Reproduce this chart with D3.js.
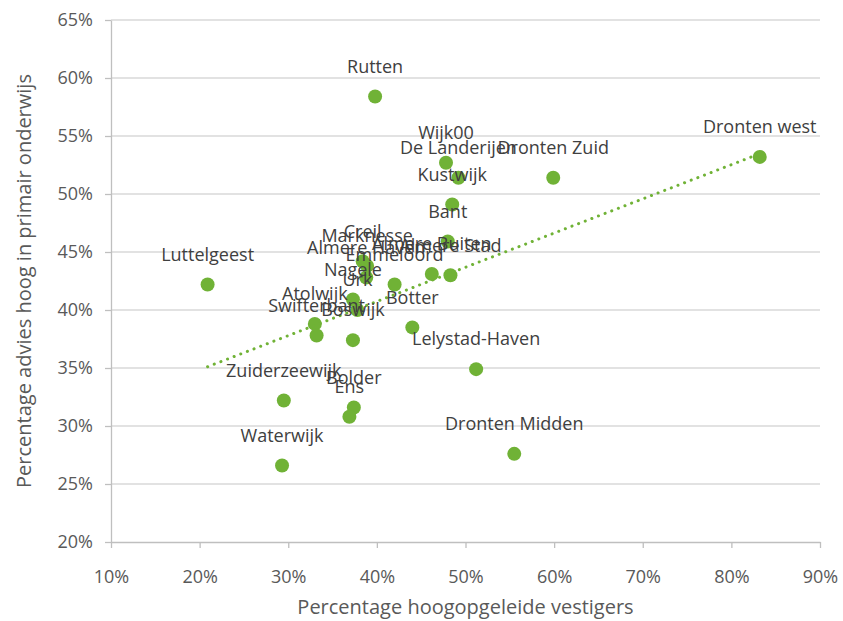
<!DOCTYPE html>
<html>
<head>
<meta charset="utf-8">
<script src="https://cdn.jsdelivr.net/npm/d3@7"></script>
<style>
	body { margin: 0; background: #fff; }
	text { font-family: 'Open Sans', sans-serif; }
</style>
</head>
<body>
<div id="chart"></div>
<script>
// wijken / kernen
const names = [
	'Rutten', 'Dronten west', 'Wijk00', 'De Landerijen', 'Dronten Zuid', 'Kustwijk',
	'Bant', 'Creil', 'Marknesse', 'Almere Haven', 'Almere Buiten', 'Almere Stad',
	'Emmeloord', 'Luttelgeest', 'Nagele', 'Urk', 'Atolwijk', 'Swifterbant',
	'Boswijk', 'Botter', 'Lelystad-Haven', 'Zuiderzeewijk', 'Bolder', 'Ens',
	'Waterwijk', 'Dronten Midden'
];
// percentage hoogopgeleide vestigers
const vestigers = [
	39.8, 83.2, 47.8, 49.2, 59.9, 48.5,
	48.0, 38.4, 38.9, 38.8, 46.2, 48.3,
	42.0, 20.9, 37.3, 37.8, 33.0, 33.2,
	37.3, 44.0, 51.2, 29.5, 37.4, 36.9,
	29.3, 55.5
];
// percentage advies hoog in primair onderwijs
const adviesHoog = [
	58.4, 53.2, 52.7, 51.4, 51.4, 49.1,
	45.9, 44.2, 43.8, 42.8, 43.1, 43.0,
	42.2, 42.2, 40.9, 40.0, 38.8, 37.8,
	37.4, 38.5, 34.9, 32.2, 31.6, 30.8,
	26.6, 27.6
];
const xTicks = [10, 20, 30, 40, 50, 60, 70, 80, 90];
const yTicks = [20, 25, 30, 35, 40, 45, 50, 55, 60, 65];

const W = 843, H = 621;
const margin = { left: 111, right: 23, top: 20, bottom: 79 };
const green = '#70b236';

const data = names.map((n, i) => ({ name: n, x: vestigers[i], y: adviesHoog[i] }));

const svg = d3.select('#chart').append('svg')
	.attr('width', W)
	.attr('height', H);

const x = d3.scaleLinear().domain([10, 90]).range([margin.left, W - margin.right]);
const y = d3.scaleLinear().domain([20, 65]).range([H - margin.bottom, margin.top]);

// horizontal gridlines
svg.append('g')
	.selectAll('line')
	.data(yTicks.slice(1))
	.enter()
	.append('line')
	.attr('x1', x(10))
	.attr('x2', x(90))
	.attr('y1', (d) => y(d))
	.attr('y2', (d) => y(d))
	.attr('stroke', '#d9d9d9')
	.attr('stroke-width', 1.3);

// axes
const xAxis = svg.append('g')
	.attr('transform', `translate(0,${y(20)})`)
	.call(d3.axisBottom(x).tickValues(xTicks).tickSize(6).tickSizeOuter(0).tickFormat((d) => d + '%'));
const yAxis = svg.append('g')
	.attr('transform', `translate(${x(10)},0)`)
	.call(d3.axisLeft(y).tickValues(yTicks).tickSize(6).tickSizeOuter(0).tickFormat((d) => d + '%'));

[xAxis, yAxis].forEach((a) => {
	a.select('.domain').attr('stroke', '#bfbfbf').attr('stroke-width', 1.3);
	a.selectAll('.tick line').attr('stroke', '#bfbfbf').attr('stroke-width', 1.3);
	a.selectAll('.tick text')
		.attr('fill', '#595959')
		.style('font-size', '18px')
		.style('font-family', "'Open Sans', sans-serif");
});
xAxis.selectAll('.tick text').attr('dy', '0.35em').attr('y', 35);
yAxis.selectAll('.tick text').attr('x', -18);

// linear trendline (least squares)
const mx = d3.mean(data, (d) => d.x);
const my = d3.mean(data, (d) => d.y);
const slope = d3.sum(data, (d) => (d.x - mx) * (d.y - my)) / d3.sum(data, (d) => (d.x - mx) ** 2);
const icpt = my - slope * mx;
const [xmin, xmax] = d3.extent(data, (d) => d.x);

// points
svg.append('g')
	.selectAll('circle')
	.data(data)
	.enter()
	.append('circle')
	.attr('cx', (d) => x(d.x))
	.attr('cy', (d) => y(d.y))
	.attr('r', 7)
	.attr('fill', green);

svg.append('line')
	.attr('x1', x(xmin))
	.attr('y1', y(icpt + slope * xmin))
	.attr('x2', x(xmax))
	.attr('y2', y(icpt + slope * xmax))
	.attr('stroke', green)
	.attr('stroke-width', 3)
	.attr('stroke-linecap', 'round')
	.attr('stroke-dasharray', '0.1 7');

// data labels above the points
svg.append('g')
	.selectAll('text')
	.data(data)
	.enter()
	.append('text')
	.attr('x', (d) => x(d.x))
	.attr('y', (d) => y(d.y) - 30)
	.attr('dy', '0.35em')
	.attr('text-anchor', 'middle')
	.attr('fill', '#404040')
	.style('font-size', '18px')
	.text((d) => d.name);

// axis titles
svg.append('text')
	.attr('x', (x(10) + x(90)) / 2)
	.attr('y', 607)
	.attr('dy', '0.35em')
	.attr('text-anchor', 'middle')
	.attr('fill', '#595959')
	.style('font-size', '20px')
	.text('Percentage hoogopgeleide vestigers');

svg.append('text')
	.attr('transform', `translate(24,${(y(20) + y(65)) / 2}) rotate(-90)`)
	.attr('dy', '0.35em')
	.attr('text-anchor', 'middle')
	.attr('fill', '#595959')
	.style('font-size', '20px')
	.text('Percentage advies hoog in primair onderwijs');
</script>
</body>
</html>
